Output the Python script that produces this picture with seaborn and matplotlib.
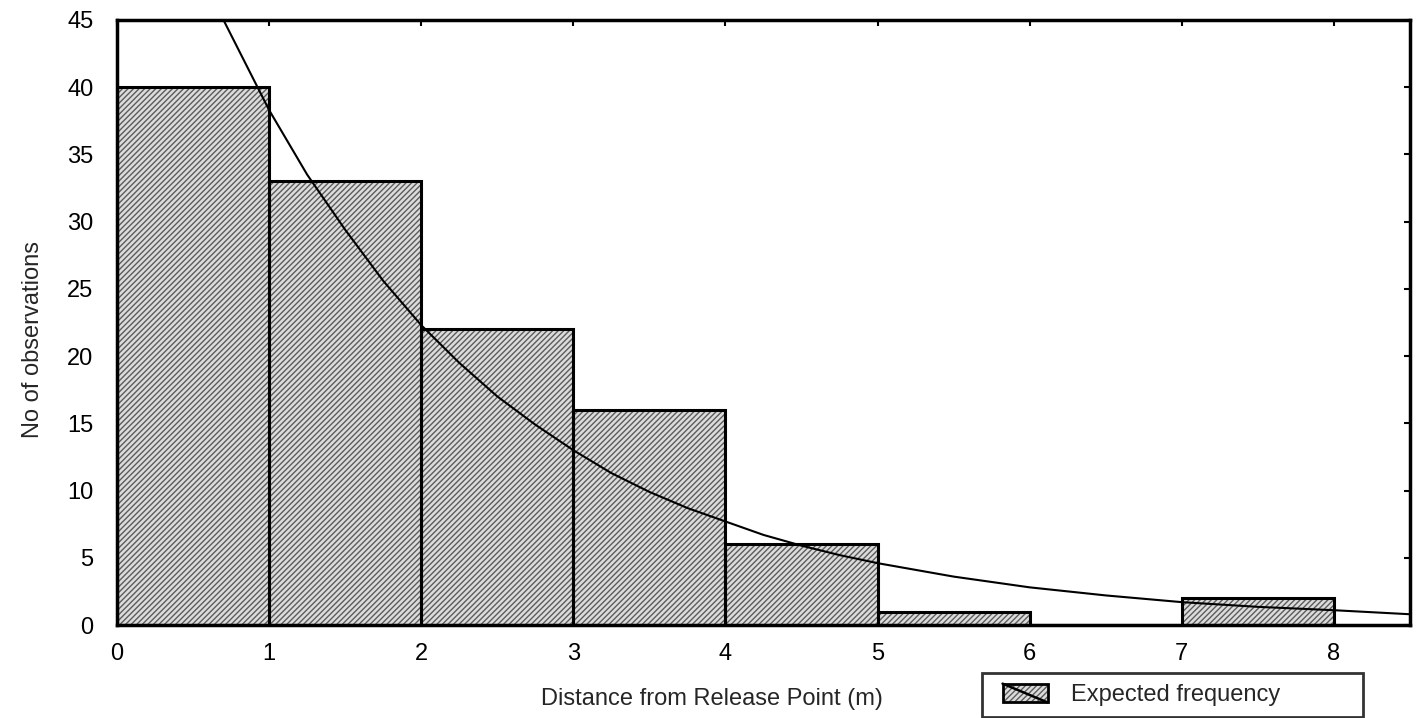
import numpy as np
import pandas as pd
import matplotlib
matplotlib.use("Agg")
import matplotlib.pyplot as plt
import seaborn as sns
from matplotlib.patches import Rectangle
from matplotlib.lines import Line2D
from matplotlib.legend_handler import HandlerBase

# ---- data ----
bin_edges = [0, 1, 2, 3, 4, 5, 6, 7, 8]
bin_centers = [0.5, 1.5, 2.5, 3.5, 4.5, 5.5, 6.5, 7.5]
counts = [40, 33, 22, 16, 6, 1, 0, 2]

curve_x = [0.70, 1.00, 1.25, 1.50, 1.75, 2.00, 2.25, 2.50, 2.75, 3.00, 3.25,
           3.50, 3.75, 4.00, 4.25, 4.50, 4.75, 5.00, 5.50, 6.00, 6.50, 7.00,
           7.50, 8.00, 8.50]
curve_y = [45.0, 38.3, 33.5, 29.4, 25.6, 22.3, 19.5, 17.0, 14.9, 13.0, 11.3,
           9.9, 8.7, 7.7, 6.7, 5.9, 5.2, 4.6, 3.6, 2.8, 2.2, 1.7,
           1.35, 1.1, 0.8]

x_ticks = [0, 1, 2, 3, 4, 5, 6, 7, 8]
y_ticks = [0, 5, 10, 15, 20, 25, 30, 35, 40, 45]

x_label = "Distance from Release Point (m)"
y_label = "No of observations"
legend_label = "Expected frequency"

# ---- style ----
sns.set_style("white")
plt.rcParams["font.family"] = ["Liberation Sans", "DejaVu Sans"]
plt.rcParams["hatch.linewidth"] = 1.0

FACE = "#dcdcdc"
HATCH_C = "#5c5c5c"

fig = plt.figure(figsize=(14.16, 7.18), dpi=100)
ax = fig.add_axes([117 / 1416, 1 - 625 / 718, (1410 - 117) / 1416, (625 - 20) / 718])

bars_df = pd.DataFrame({"center": bin_centers, "count": counts})
curve_df = pd.DataFrame({"x": curve_x, "y": curve_y})

# textured fill
sns.histplot(data=bars_df, x="center", weights="count", bins=bin_edges,
             color=FACE, alpha=1, hatch="//////", edgecolor=HATCH_C,
             linewidth=0, ax=ax)
# black outlines
sns.histplot(data=bars_df, x="center", weights="count", bins=bin_edges,
             fill=False, color="black", linewidth=2.2, ax=ax)
# expected frequency curve
sns.lineplot(data=curve_df, x="x", y="y", color="black", linewidth=1.5,
             legend=False, ax=ax)

ax.set_xlim(0, 8.5)
ax.set_ylim(0, 45)
ax.set_xticks(x_ticks)
ax.set_yticks(y_ticks)
ax.tick_params(axis="both", direction="in", length=4, width=1.5,
               labelsize=17, top=True, right=True, colors="black")
ax.tick_params(axis="y", pad=17)
ax.tick_params(axis="x", pad=13)
for s in ax.spines.values():
    s.set_visible(True)
    s.set_color("black")
    s.set_linewidth(2.5)

ax.set_xlabel(x_label, fontsize=17)
ax.set_ylabel(y_label, fontsize=17)
ax.xaxis.set_label_coords((711.5 - 117) / 1293, (625 - 699) / 605)
ax.xaxis.label.set_va("center")
ax.yaxis.set_label_coords((33 - 117) / 1293, (625 - 340) / 605)
ax.yaxis.label.set_va("center")


class HatchLineHandler(HandlerBase):
    def create_artists(self, legend, orig_handle, xdescent, ydescent,
                       width, height, fontsize, trans):
        inset = 0.18 * width
        x0, y0 = -xdescent + inset, -ydescent
        w = width - inset
        r = Rectangle((x0, y0), w, height, facecolor=FACE,
                      hatch="//////", edgecolor=HATCH_C, lw=0, transform=trans)
        r2 = Rectangle((x0, y0), w, height, fill=False,
                       edgecolor="black", lw=2.0, transform=trans)
        ln = Line2D([x0, x0 + w], [y0 + height, y0], color="black",
                    lw=1.8, transform=trans)
        return [r, r2, ln]


dummy = Line2D([], [], color="black")
leg = fig.legend([dummy], [legend_label],
                 handler_map={dummy: HatchLineHandler()},
                 loc="upper left",
                 bbox_to_anchor=(982 / 1416, 1 - 673 / 718, (1363 - 982) / 1416, 0.0),
                 mode="expand", fontsize=17, frameon=True, fancybox=False,
                 borderpad=0.45, handlelength=2.33, handleheight=0.85,
                 handletextpad=1.0, borderaxespad=0)
leg.get_frame().set_edgecolor("black")
leg.get_frame().set_linewidth(2.0)

fig.savefig("out.png", dpi=100)
